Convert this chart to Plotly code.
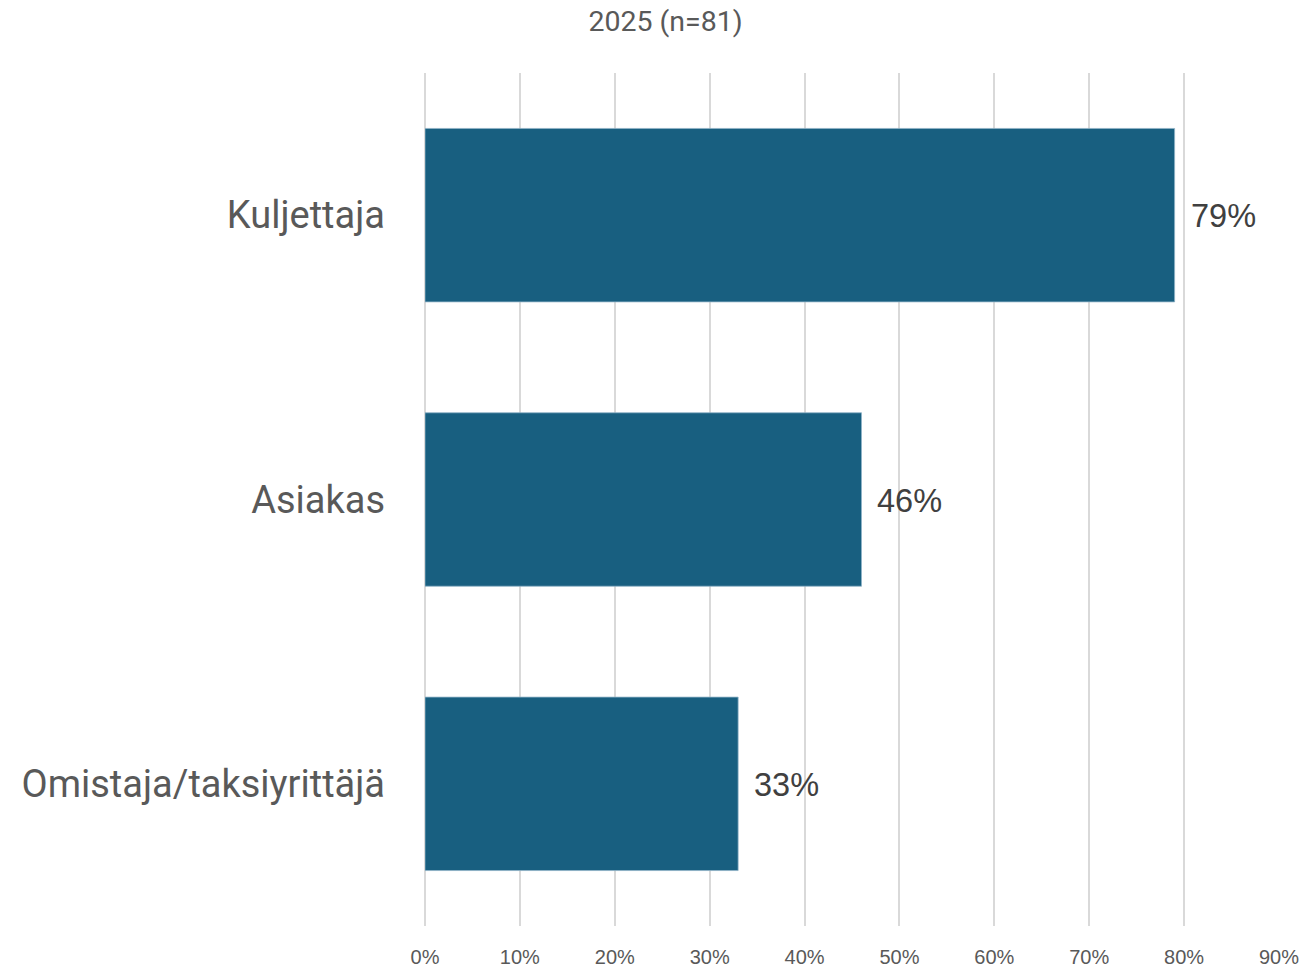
import plotly.graph_objects as go

categories = ["Kuljettaja", "Asiakas", "Omistaja/taksiyrittäjä"]
values = [0.79, 0.46, 0.33]
tick_vals = [0, 0.1, 0.2, 0.3, 0.4, 0.5, 0.6, 0.7, 0.8, 0.9]
tick_text = ["0%", "10%", "20%", "30%", "40%", "50%", "60%", "70%", "80%", "90%"]
title_text = "2025 (n=81)"

BAR = "#185F80"

fig = go.Figure()
fig.add_trace(go.Bar(
    x=values, y=categories, orientation="h",
    marker=dict(color=BAR, line=dict(color="#8fb3c6", width=0.8)),
    width=0.61, hoverinfo="skip",
))

for c, v in zip(categories, values):
    fig.add_annotation(
        x=v, y=c, text=f"{round(v*100)}%", showarrow=False,
        xanchor="left", yanchor="middle", xshift=14, yshift=-1,
        font=dict(family="Liberation Sans, Arial", size=32.5, color="#404040"),
    )

fig.update_layout(
    width=1304, height=968,
    margin=dict(l=425, r=25, t=73, b=42, autoexpand=False),
    paper_bgcolor="white", plot_bgcolor="white",
    showlegend=False,
    title=dict(text=title_text, x=0.5104, xanchor="center", y=0.9783, yanchor="middle",
               font=dict(family="Roboto", size=28.5, color="#595959")),
    xaxis=dict(
        range=[0, 0.9], tickvals=tick_vals, ticktext=tick_text,
        showgrid=True, gridcolor="#d9d9d9", gridwidth=2,
        zeroline=True, zerolinecolor="#d9d9d9", zerolinewidth=2,
        showline=False, ticks="", automargin=False,
        tickfont=dict(family="Liberation Sans, Arial", size=20, color="#595959"),
        ticklabelstandoff=17, fixedrange=True,
    ),
    yaxis=dict(
        categoryorder="array", categoryarray=categories,
        autorange=False, range=[2.5, -0.5], automargin=False,
        showgrid=False, zeroline=False, showline=False, ticks="",
        tickfont=dict(family="Roboto", size=38, color="#595959"),
        ticklabelstandoff=39, fixedrange=True,
    ),
)

fig.write_html(
    "out.html",
    config={"displayModeBar": False},
    post_script=["document.body.style.margin='0px';document.body.style.overflow='hidden';"],
)
